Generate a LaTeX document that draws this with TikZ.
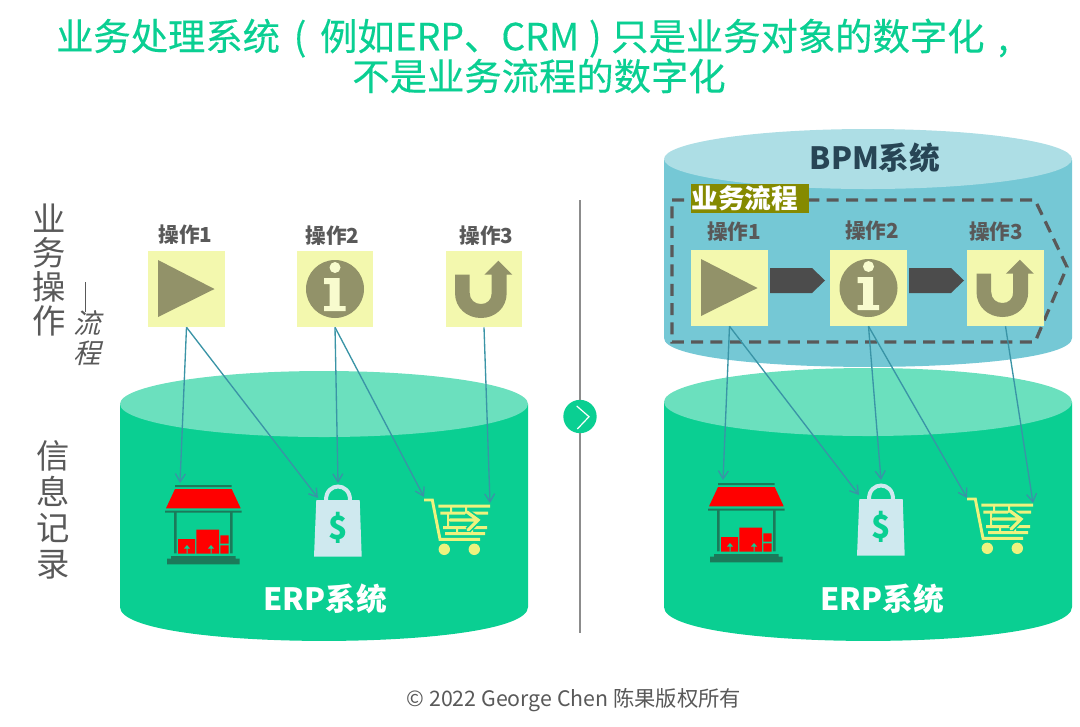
\documentclass[tikz,border=0pt]{standalone}
\usepackage{fontspec}
\setmainfont{Noto Sans CJK SC}
\newfontfamily\slantfont[FakeSlant=0.25]{Noto Sans CJK SC}
\newfontfamily\titlefont[FakeBold=0.3]{Noto Sans CJK SC}
\usepackage{tikz}
\usetikzlibrary{arrows.meta,positioning}
\definecolor{erpgreen}{HTML}{0ACF92}
\definecolor{erptop}{HTML}{6BE0BE}
\definecolor{bpmbody}{HTML}{75C8D5}
\definecolor{bpmtop}{HTML}{ADDEE5}
\definecolor{bpmtext}{HTML}{274555}
\definecolor{opyellow}{HTML}{F3F8AE}
\definecolor{opolive}{HTML}{929269}
\definecolor{labelgray}{HTML}{595959}
\definecolor{linkteal}{HTML}{3A94A6}
\definecolor{storedark}{HTML}{1B7A5A}
\definecolor{bagblue}{HTML}{CFE9EF}
\definecolor{cartyellow}{HTML}{EEF27E}
\definecolor{tagolive}{HTML}{858A00}
\tikzset{
  playicon/.pic={\fill[opolive] (-28.5,-29)--(-28.5,28)--(28,0)--cycle;},
  infoicon/.pic={
    \fill[opolive] (0,0) circle (29);
    \fill[opyellow!60!white] (0,-21.5) circle (5.5);
    \fill[opyellow!60!white] (-11,-11)--(4.7,-11)--(4.7,17)--(10.7,17)--(10.7,22)--(-11,22)--(-11,17)--(-5.3,17)--(-5.3,-5)--(-11,-5)--cycle;},
  backicon/.pic={
    \fill[opolive] (-29,-14.3)--(-14.3,-14.3)--(-14.3,4)
      .. controls (-14.3,11) and (-9,15) .. (-3,15)
      .. controls (3,15) and (7.7,11) .. (7.7,4)
      --(7.7,-14.3)--(0.3,-14.3)--(14.3,-28.3)--(28.3,-14.3)--(22.7,-14.3)--(22.7,4)
      .. controls (22.7,19) and (11,29) .. (-3,29)
      .. controls (-17,29) and (-29,19) .. (-29,4)--cycle;},
  storeicon/.pic={
    \fill[storedark] (-28,-40) rectangle (28.7,-38) (-38,-14.3) rectangle (38.7,-12.3)
      (-29,-12.3) rectangle (-26.3,28.3) (27,-12.3) rectangle (29.7,28.3)
      (-32,31) rectangle (32.7,34) (-36,33.7) rectangle (36.7,39.3);
    \fill[red] (-28,-36)--(28.7,-36)--(37.7,-16.7)--(-37,-16.7)--cycle;
    \fill[red] (-25,14) rectangle (-8,28.7) (-6.7,4.7) rectangle (16,28.7)
      (17.3,10.3) rectangle (25.7,18.7) (17.3,20.3) rectangle (25.7,28.7);
    \fill[erpgreen] (-16.5,28.7) rectangle (-15.5,23) (-19,23.5)--(-16,20)--(-13,23.5)--cycle
      (7.5,28.7) rectangle (8.5,23) (5,23.5)--(8,20)--(11,23.5)--cycle;},
  bagicon/.pic={
    \fill[bagblue] (-21.7,-20)--(21.7,-20)--(23.7,36.7)--(-24,36.7)--cycle;
    \draw[bagblue,line width=3pt] (-12,-20) .. controls (-12,-38) and (12,-38) .. (12,-20);
    \node[text=erpgreen,font=\fontsize{24}{24}\selectfont\bfseries] (dollar) at (0,8) {\$};},
  carticon/.pic={
    \draw[cartyellow,line width=2.2pt] (-33,-27)--(-24.7,-27)--(-17,12.3)--(23,12.3);
    \fill[cartyellow] (-18.7,-22.5) rectangle (33,-19.5) (-16.7,-15.5) rectangle (31,-12.5)
      (-14,-1) rectangle (30,2) (-12,5) rectangle (28,8);
    \fill[cartyellow] (-7,-20) rectangle (-5,-15) (8,-20) rectangle (10,-15)
      (-10,-13) rectangle (-8,-1) (-1,2) rectangle (1,5) (14,2) rectangle (16,5);
    \draw[erpgreen,line width=5pt] (-7,-7)--(20,-7) (10,-15)--(21,-7)--(11,3);
    \draw[cartyellow,line width=2.4pt,line cap=round] (-7,-7)--(20,-7) (10,-15)--(21,-7)--(11,3);
    \fill[cartyellow] (-12.7,22.3) circle (5.7) (17.3,22.3) circle (5.7);},
  opbox/.style={fill=opyellow,minimum width=57.5pt,minimum height=57pt,inner sep=0pt},
  oplabel/.style={text=labelgray,font=\fontsize{15.5}{15.5}\selectfont\bfseries,inner sep=0pt},
  iconbox/.style={minimum size=1pt,inner sep=0pt},
  link/.style={linkteal,line width=1pt,-{Straight Barb[length=6pt,width=7.5pt]}},
  flowarrow/.style={fill=black!70,draw=none},
  sidelabel/.style={text=labelgray,align=center,inner sep=0pt},
}
\newcommand{\tank}[6]{%
  \fill[#5] (#1,#2) -- (#1,#4) .. controls (#1,#4+#6*1.33) and (#3,#4+#6*1.33) .. (#3,#4) -- (#3,#2) -- cycle;
}
\begin{document}
\begin{tikzpicture}[x=0.75pt,y=-0.75pt,>=Latex,font=\fontsize{15}{15}\selectfont]
  \useasboundingbox (0,0) rectangle (1080,726);
  \node[text=erpgreen,align=center,inner sep=0pt,font=\titlefont\fontsize{28}{30}\selectfont] (title) at (539,56) {业务处理系统\makebox[30pt]{(}例如ERP、CRM\makebox[24pt]{)}只是业务对象的数字化\makebox[28pt]{,}\\不是业务流程的数字化};
  % tanks
  \tank{120}{404}{528}{607}{erpgreen}{34}
  \fill[erptop] (324,404) ellipse (204 and 33);
  \tank{664}{160}{1072}{338}{bpmbody}{29}
  \fill[bpmtop] (868,159) ellipse (204 and 30);
  \tank{664}{402}{1072}{607}{erpgreen}{34}
  \fill[erptop] (868,402) ellipse (204 and 34);
  \node[text=white,font=\fontsize{23}{23}\selectfont\bfseries] (erpl) at (325,599) {ERP系统};
  \node[text=white,font=\fontsize{23}{23}\selectfont\bfseries] (erpr) at (882,599) {ERP系统};
  \node[text=bpmtext,font=\fontsize{23}{23}\selectfont\bfseries] (bpm) at (875,158) {BPM系统};
  % divider
  \node[circle,fill=erpgreen,minimum size=25pt,inner sep=0pt] (next) at (580,416.5) {};
  \coordinate (divtop) at (580,200);
  \coordinate (divbot) at (580,633);
  \draw[black!45,line width=1pt] (divtop)--(next) (next)--(divbot);
  \draw[white,line width=0.9pt] (576.7,406)--(589,416.7)--(577.3,429);
  % side labels
  \node[sidelabel,font=\fontsize{25}{25.5}\selectfont] (opside) at (49,270) {业\\务\\操\\作};
  \node[sidelabel,font=\fontsize{20.5}{22}\selectfont\slantfont] (flowside) at (87,338) {流\\程};
  \coordinate (dashtop) at (85.7,282);
  \coordinate (dashbot) at (85.7,312);
  \draw[labelgray,line width=1pt] (dashtop)--(dashbot);
  \node[sidelabel,font=\fontsize{25}{27}\selectfont] (infoside) at (53,510) {信\\息\\记\\录};
  % left operations
  \node[opbox] (opa) at (186.5,289) {};
  \node[opbox] (opb) at (335,289) {};
  \node[opbox] (opc) at (484,289) {};
  \pic at (opa) {playicon};
  \pic at (opb) {infoicon};
  \pic at (opc) {backicon};
  \node[oplabel] (laba) at (185.5,235) {操作1};
  \node[oplabel] (labb) at (332.5,236) {操作2};
  \node[oplabel] (labc) at (486.5,236) {操作3};
  % left icons
  \node[iconbox] (storel) at (203,525) {};
  \node[iconbox] (bagl) at (338,520) {};
  \node[iconbox] (cartl) at (457,527) {};
  \pic at (storel) {storeicon};
  \pic at (bagl) {bagicon};
  \pic at (cartl) {carticon};
  \draw[link] (opa.south)--([shift={(-23,-42)}]storel.center);
  \draw[link] (opa.south)--([shift={(-20,-22)}]bagl.center);
  \draw[link] (opb.south)--([shift={(0,-37)}]bagl.center);
  \draw[link] (opb.south)--([shift={(-33,-30)}]cartl.center);
  \draw[link] (opc.south)--([shift={(33,-24)}]cartl.center);
  % right operations
  \draw[labelgray,line width=2.4pt,dash pattern=on 9pt off 5.5pt] (672,200)--(1035,200)--(1067,267)--(1035,342)--(672,342)--cycle;
  \node[fill=tagolive,text=white,inner sep=0pt,minimum width=88pt,minimum height=22pt,font=\fontsize{20}{20}\selectfont\bfseries,text width=88pt] (tag) at (750,198.5) {业务流程};
  \node[opbox] (oprx) at (729.5,288) {};
  \node[opbox] (opry) at (868.5,288) {};
  \node[opbox] (oprz) at (1005.5,288) {};
  \pic at (oprx) {playicon};
  \pic at (opry) {infoicon};
  \pic at (oprz) {backicon};
  \node[oplabel] (labx) at (734,232) {操作1};
  \node[oplabel] (laby) at (872,231) {操作2};
  \node[oplabel] (labz) at (996,232) {操作3};
  \fill[flowarrow] (770,268)--(812,268)--(825,280.5)--(812,293)--(770,293)--cycle;
  \fill[flowarrow] (909,268)--(951,268)--(964,280.5)--(951,293)--(909,293)--cycle;
  % right icons
  \node[iconbox] (storer) at (746,523) {};
  \node[iconbox] (bagr) at (881,519) {};
  \node[iconbox] (cartr) at (1000,526) {};
  \pic at (storer) {storeicon};
  \pic at (bagr) {bagicon};
  \pic at (cartr) {carticon};
  \draw[link] (oprx.south)--([shift={(-23,-43)}]storer.center);
  \draw[link] (oprx.south)--([shift={(-22,-24)}]bagr.center);
  \draw[link] (opry.south)--([shift={(0,-39)}]bagr.center);
  \draw[link] (opry.south)--([shift={(-33,-28)}]cartr.center);
  \draw[link] (oprz.south)--([shift={(33,-23)}]cartr.center);
  \node[text=labelgray,font=\fontsize{16}{16}\selectfont] (copy) at (574,700) {© 2022 George Chen 陈果版权所有};
\end{tikzpicture}
\end{document}
